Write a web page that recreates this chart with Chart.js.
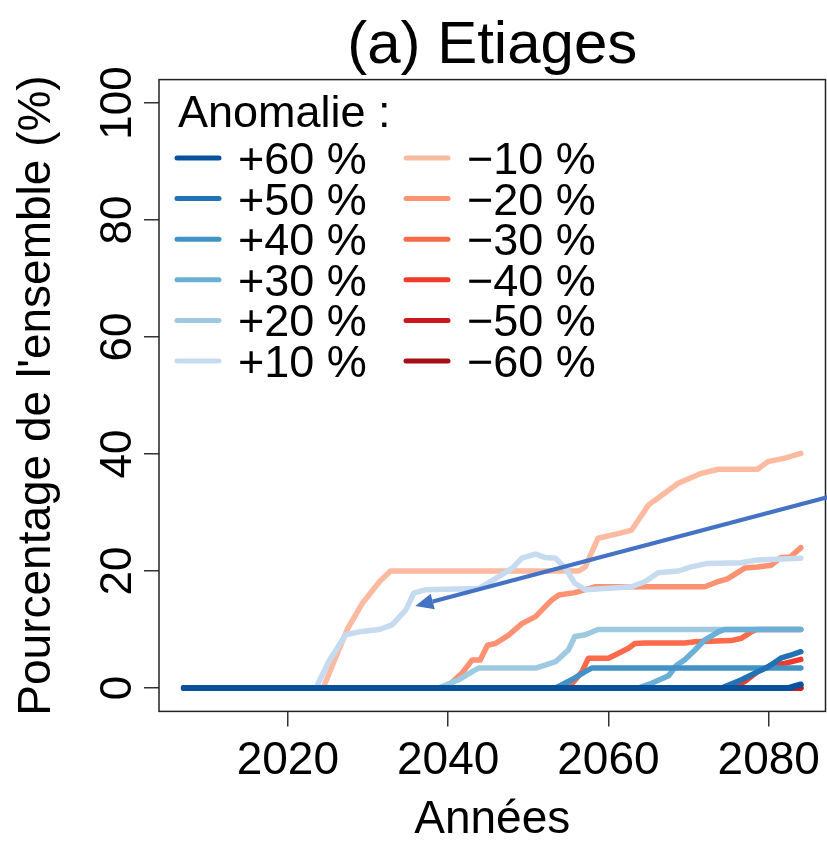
<!DOCTYPE html>
<html>
<head>
<meta charset="utf-8">
<script src="https://cdn.jsdelivr.net/npm/chart.js@4.4.0/dist/chart.umd.min.js"></script>
<style>
  html, body { margin: 0; padding: 0; background: #fff; }
</style>
</head>
<body>
<canvas id="chart" width="827" height="843"></canvas>
<script>
// series: [year, % of ensemble]
const pos60 = [[2007, 0], [2082.5, 0], [2084, 0.6]];
const pos50 = [[2007, 0], [2074.1, 0], [2076.6, 1.4], [2078.2, 2.5], [2079.9, 3.6], [2081.5, 5.1], [2082.7, 5.6], [2084, 6.2]];
const pos40 = [[2007, 0], [2053.4, 0], [2055.4, 1.4], [2057.1, 2.8], [2057.9, 3.4], [2084, 3.4]];
const pos30 = [[2007, 0], [2063.7, 0], [2065.4, 0.8], [2067.5, 2.1], [2068.5, 3.9], [2069.5, 4.8], [2070.8, 6.5], [2072, 8.2], [2073.7, 9.6], [2074.5, 10], [2084, 10]];
const pos20 = [[2007, 0], [2038.8, 0], [2041.3, 1.4], [2043, 2.8], [2043.8, 3.4], [2050.9, 3.4], [2052.1, 3.9], [2053.4, 4.5], [2055, 6.5], [2055.8, 8.8], [2057.1, 9.1], [2058.7, 10], [2084, 10]];
const pos10 = [[2007, 0], [2023.5, 0], [2025.2, 4.8], [2026, 6.5], [2027.2, 9.1], [2028.9, 9.6], [2031.4, 10], [2033, 10.8], [2034.7, 13.3], [2035.7, 16.2], [2037.2, 16.8], [2043.8, 17], [2045.9, 18.7], [2048, 20.5], [2049.2, 22.2], [2050.9, 22.9], [2052.1, 22.3], [2053.4, 22.2], [2054.6, 20.5], [2055.8, 17.9], [2057.1, 16.8], [2059.6, 17], [2062.9, 17.3], [2064.6, 18.2], [2066.2, 19.7], [2068.7, 20], [2070.3, 20.7], [2072.4, 21.3], [2076.6, 21.4], [2078.6, 21.9], [2084, 22.2]];
const neg10 = [[2007, 0], [2024.4, 0], [2027.4, 10], [2029.3, 14.5], [2031.5, 18.3], [2032.8, 20], [2056.3, 20], [2057.1, 20.7], [2058.7, 25.6], [2061.2, 26.4], [2062.9, 27], [2065, 31.3], [2067, 33.3], [2068.7, 35], [2071.6, 36.7], [2073.7, 37.4], [2078.6, 37.4], [2079.9, 38.7], [2082, 39.3], [2084, 40.1]];
const neg20 = [[2007, 0], [2039.7, 0], [2041.7, 2.5], [2043, 4.8], [2044, 4.8], [2044.9, 7.3], [2045.9, 7.6], [2047.5, 9], [2049.2, 11], [2050.9, 12.2], [2052.1, 13.9], [2052.9, 15], [2053.8, 15.9], [2055.8, 16.3], [2058.3, 17.3], [2072, 17.3], [2073.7, 18.2], [2074.9, 18.7], [2077, 20.5], [2078.6, 20.7], [2080.3, 21], [2081.5, 22.3], [2082.7, 22.4], [2084, 24]];
const neg30 = [[2007, 0], [2055, 0], [2056.7, 2.8], [2057.5, 5.1], [2060, 5.1], [2061.2, 5.9], [2062.5, 6.8], [2063.3, 7.6], [2064.6, 7.7], [2069.5, 7.7], [2070.8, 7.9], [2075.3, 8.1], [2076.6, 8.5], [2077.8, 9.6], [2078.5, 10], [2084, 10]];
const neg40 = [[2007, 0], [2075.3, 0], [2077, 1.1], [2078.6, 2.8], [2080.3, 3.9], [2082, 4.2], [2084, 4.9]];
const neg50 = [[2007, 0], [2084, 0]];
const neg60 = [[2007, 0], [2084, 0]];

const seriesLabels = ['+60 %', '+50 %', '+40 %', '+30 %', '+20 %', '+10 %',
                      '\u221210 %', '\u221220 %', '\u221230 %', '\u221240 %', '\u221250 %', '\u221260 %'];
const seriesData = [pos60, pos50, pos40, pos30, pos20, pos10, neg10, neg20, neg30, neg40, neg50, neg60];
const seriesColors = ['#08519C', '#2171B5', '#4292C6', '#6BAED6', '#9ECAE1', '#C6DBEF',
                      '#FCBBA1', '#FC9272', '#FB6A4A', '#EF3B2C', '#CB181D', '#A50F15'];

const xTicks = [2020, 2040, 2060, 2080];
const yTicks = [0, 20, 40, 60, 80, 100];

const FONT = '"Liberation Sans", Arial, Helvetica, sans-serif';
Chart.defaults.font.family = FONT;
Chart.defaults.color = '#000';

// box around the plot region, like R's box()
const framePlugin = {
  id: 'frame',
  afterDraw(chart) {
    const { ctx, chartArea: a } = chart;
    ctx.save();
    ctx.strokeStyle = '#222';
    ctx.lineWidth = 1.5;
    ctx.strokeRect(a.left, a.top, a.right - a.left, a.bottom - a.top);
    ctx.restore();
  }
};

const titlePlugin = {
  id: 'mainTitle',
  afterDraw(chart) {
    const { ctx, chartArea: a } = chart;
    ctx.save();
    ctx.font = '60px ' + FONT;
    ctx.fillStyle = '#000';
    ctx.textAlign = 'center';
    ctx.textBaseline = 'alphabetic';
    ctx.fillText('(a) Etiages', (a.left + a.right) / 2, 63);
    ctx.restore();
  }
};

const legendPlugin = {
  id: 'anomLegend',
  afterDraw(chart) {
    const ctx = chart.ctx;
    ctx.save();
    ctx.font = '45px ' + FONT;
    ctx.fillStyle = '#000';
    ctx.textBaseline = 'alphabetic';
    ctx.fillText('Anomalie :', 178, 127);
    seriesLabels.forEach((lab, i) => {
      const col = Math.floor(i / 6), row = i % 6;
      const x0 = col ? 406 : 177;
      const yc = 158 + row * 40.6;
      ctx.strokeStyle = seriesColors[i];
      ctx.lineWidth = 5;
      ctx.lineCap = 'round';
      ctx.beginPath();
      ctx.moveTo(x0, yc);
      ctx.lineTo(x0 + 42, yc);
      ctx.stroke();
      ctx.fillText(lab, col ? 467 : 238, yc + 16);
    });
    ctx.restore();
  }
};

// the blue annotation arrow, anchored in data units
const arrowPlugin = {
  id: 'arrow',
  afterDraw(chart) {
    const { ctx, scales: { x, y } } = chart;
    const x1 = x.getPixelForValue(2087.3), y1 = y.getPixelForValue(32.6);
    const x2 = x.getPixelForValue(2035.9), y2 = y.getPixelForValue(14.0);
    const ang = Math.atan2(y2 - y1, x2 - x1);
    const hl = 18, hw = 8;
    const bx = x2 - hl * Math.cos(ang), by = y2 - hl * Math.sin(ang);
    ctx.save();
    ctx.strokeStyle = '#4472C4';
    ctx.fillStyle = '#4472C4';
    ctx.lineWidth = 4;
    ctx.beginPath();
    ctx.moveTo(x1, y1);
    ctx.lineTo(bx, by);
    ctx.stroke();
    ctx.beginPath();
    ctx.moveTo(x2, y2);
    ctx.lineTo(bx + hw * Math.sin(ang), by - hw * Math.cos(ang));
    ctx.lineTo(bx - hw * Math.sin(ang), by + hw * Math.cos(ang));
    ctx.closePath();
    ctx.fill();
    ctx.restore();
  }
};

const datasets = seriesData.map((pts, i) => ({
  label: seriesLabels[i],
  data: pts.map(([yr, v]) => ({ x: yr, y: v })),
  borderColor: seriesColors[i],
  borderWidth: i === 0 ? 6 : 5.5,
  borderCapStyle: 'round',
  borderJoinStyle: 'round',
  pointRadius: 0,
  tension: 0,
  fill: false
}));

new Chart(document.getElementById('chart'), {
  type: 'line',
  data: { datasets },
  plugins: [framePlugin, titlePlugin, legendPlugin, arrowPlugin],
  options: {
    responsive: false,
    animation: false,
    layout: { padding: { top: 79.6, right: 1, left: 0, bottom: 0 } },
    plugins: { legend: { display: false }, tooltip: { enabled: false } },
    scales: {
      x: {
        type: 'linear',
        min: 2003.92,
        max: 2087.08,
        afterBuildTicks: s => { s.ticks = xTicks.map(v => ({ value: v })); },
        afterFit: s => { s.height = 131.6; },
        grid: { drawOnChartArea: false, drawTicks: true, tickLength: 15, tickColor: '#333', lineWidth: 1.5 },
        border: { display: false },
        ticks: { font: { size: 46 }, padding: 7, callback: v => String(v) },
        title: { display: true, text: 'Années', font: { size: 46, lineHeight: 1.0 }, padding: { top: 0, bottom: 0 } }
      },
      y: {
        min: -4,
        max: 104,
        afterBuildTicks: s => { s.ticks = yTicks.map(v => ({ value: v })); },
        afterFit: s => { s.width = 159; },
        grid: { drawOnChartArea: false, drawTicks: true, tickLength: 15, tickColor: '#333', lineWidth: 1.5 },
        border: { display: false },
        ticks: { font: { size: 44 }, minRotation: 90, maxRotation: 90, crossAlign: 'center', padding: -12, callback: v => String(v) },
        title: { display: true, text: "Pourcentage de l'ensemble (%)", font: { size: 46 }, padding: { top: 10, bottom: 0 } }
      }
    }
  }
});
</script>
</body>
</html>
